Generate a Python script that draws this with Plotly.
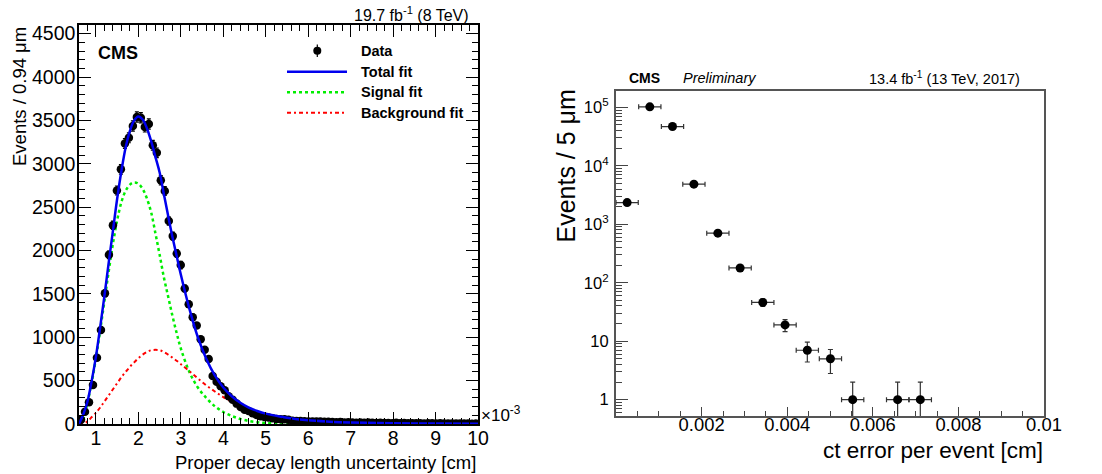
import numpy as np
import plotly.graph_objects as go

W, H = 1102, 474
FONT = "Liberation Sans, Arial, sans-serif"

# ---------------- Left panel data (x in units of 1e-3 cm) ----------------
bin_lo = 0.6
bin_width = 0.094  # 0.94 um bins
left_counts = [
    50, 142, 250, 449, 764, 1083, 1506, 1950, 2290, 2692,
    2936, 3234, 3300, 3435, 3540, 3530, 3425, 3458, 3214, 3126,
    2811, 2686, 2340, 2166, 1966, 1832, 1563, 1380, 1232, 1136,
    978, 857, 750, 553, 487, 434, 390, 320, 280, 235,
    195, 165, 150, 123, 105, 90, 80, 75, 65, 58,
    54, 55, 50, 38, 36, 34, 32, 30, 28, 30,
    28, 25, 27, 22, 20, 24, 18, 19, 17, 15,
    18, 14, 16, 13, 12, 15, 11, 12, 10, 13,
    9, 11, 10, 8, 10, 9, 7, 9, 8, 6,
    8, 7, 6, 7, 5, 6, 5, 6, 4, 5,
]
left_x = bin_lo + bin_width * (np.arange(len(left_counts)) + 0.5)
left_err = np.sqrt(np.array(left_counts, dtype=float))

fit_x = [0.6, 0.7, 0.8, 0.9, 1.0, 1.1, 1.2, 1.3, 1.4, 1.5, 1.6, 1.7, 1.8, 1.9,
         2.0, 2.1, 2.2, 2.3, 2.4, 2.5, 2.6, 2.7, 2.8, 2.9, 3.0, 3.2, 3.4, 3.6,
         3.8, 4.0, 4.2, 4.4, 4.6, 4.8, 5.0, 5.5, 6.0, 6.5, 7.0, 8.0, 9.0, 10.0]
total_fit = [0, 110, 260, 500, 780, 1120, 1480, 1860, 2230, 2600, 2920, 3190, 3380, 3500,
             3545, 3510, 3410, 3260, 3080, 2900, 2650, 2400, 2160, 1940, 1720, 1330, 1000, 750,
             560, 420, 320, 245, 190, 150, 120, 72, 42, 27, 18, 9, 5, 3]
signal_fit = [0, 60, 250, 480, 760, 1080, 1420, 1760, 2080, 2350, 2560, 2690, 2760, 2785,
              2770, 2710, 2600, 2440, 2200, 1950, 1690, 1470, 1250, 1050, 870, 600, 420, 300,
              205, 138, 92, 58, 35, 20, 11, 2, 0, 0, 0, 0, 0, 0]
background_fit = [0, 5, 30, 80, 130, 190, 260, 330, 400, 470, 540, 600, 660, 710,
                  760, 800, 830, 850, 855, 850, 830, 800, 765, 730, 690, 610, 525, 445,
                  375, 310, 255, 200, 155, 120, 92, 50, 27, 15, 8, 3, 1.5, 0.5]

# ---------------- Right panel data ----------------
right_x = [0.00026, 0.00079, 0.00132, 0.00182, 0.00238, 0.00290, 0.00343,
           0.00395, 0.00447, 0.00501, 0.00553, 0.00658, 0.00711]
right_xerr = [0.00026] * len(right_x)
right_counts = [2350, 102000, 47000, 4860, 705, 179, 46, 19, 7, 5, 1, 1, 1]
right_err = [48, 320, 217, 70, 27, 13.4, 6.8, 4.4, 2.6, 2.2, 1, 1, 1]

right_xticks = [0.002, 0.004, 0.006, 0.008, 0.01]
right_xticktext = ["0.002", "0.004", "0.006", "0.008", "0.01"]


def px(x):
    return x / W


def py(y):
    return 1 - y / H


fig = go.Figure()

# left panel
fig.add_trace(go.Scatter(x=fit_x, y=signal_fit, mode="lines", line=dict(color="#00ee00", width=2.5, dash="dot", shape="spline"),
                         xaxis="x", yaxis="y", showlegend=False))
fig.add_trace(go.Scatter(x=fit_x, y=background_fit, mode="lines",
                         line=dict(color="#ff0000", width=2, dash="4px,3px,2px,3px", shape="spline"),
                         xaxis="x", yaxis="y", showlegend=False))
fig.add_trace(go.Scatter(x=left_x, y=left_counts, mode="markers",
                         marker=dict(color="black", size=8.5),
                         error_y=dict(type="data", array=left_err, color="black", thickness=1.2, width=2),
                         xaxis="x", yaxis="y", showlegend=False))
fig.add_trace(go.Scatter(x=fit_x, y=total_fit, mode="lines", line=dict(color="#0000ee", width=2.5, shape="spline"),
                         xaxis="x", yaxis="y", showlegend=False))

# right panel
fig.add_trace(go.Scatter(x=right_x, y=right_counts, mode="markers",
                         marker=dict(color="black", size=9),
                         error_y=dict(type="data", array=right_err, color="#333", thickness=1.2, width=2.5),
                         error_x=dict(type="data", array=right_xerr, color="#333", thickness=1.2, width=2.5),
                         xaxis="x2", yaxis="y2", showlegend=False))

tick_font_l = dict(family=FONT, size=19.5, color="black")

fig.update_layout(
    width=W, height=H,
    margin=dict(l=0, r=0, t=0, b=0, autoexpand=False),
    paper_bgcolor="white", plot_bgcolor="white",
    font=dict(family=FONT, color="black"),
    xaxis=dict(domain=[px(79), px(478)], anchor="y", range=[0.6, 10],
               tickmode="linear", tick0=0, dtick=1, ticks="inside", ticklen=12, tickwidth=1.2,
               tickcolor="black", showline=True, linecolor="black", linewidth=1.5, mirror="ticks",
               showgrid=False, zeroline=False, tickfont=tick_font_l, ticklabelstandoff=-4,
               minor=dict(ticks="inside", ticklen=6, tickwidth=1, tickcolor="black", tick0=0, dtick=0.2, showgrid=False)),
    yaxis=dict(domain=[py(424), py(25)], anchor="x", range=[0, 4600],
               tickmode="linear", tick0=0, dtick=500, ticks="inside", ticklen=12, tickwidth=1.2,
               tickcolor="black", showline=True, linecolor="black", linewidth=1.5, mirror="ticks",
               showgrid=False, zeroline=False, tickfont=tick_font_l, ticklabelstandoff=-2,
               minor=dict(ticks="inside", ticklen=6, tickwidth=1, tickcolor="black", tick0=0, dtick=100, showgrid=False)),
    xaxis2=dict(domain=[px(616), px(1044)], anchor="y2", range=[0, 0.01],
                tickmode="array", tickvals=right_xticks, ticktext=right_xticktext,
                ticks="inside", ticklen=9, tickwidth=1, tickcolor="#444",
                showline=True, linecolor="#555", linewidth=1.5, mirror=True, ticklabelstandoff=-9,
                showgrid=False, zeroline=False, tickfont=dict(family=FONT, size=18.4, color="black"),
                minor=dict(tickmode="linear", tick0=0, dtick=0.0005, ticks="inside", ticklen=5,
                           tickwidth=1, tickcolor="#444", showgrid=False)),
    yaxis2=dict(domain=[py(416), py(91)], anchor="x2", type="log", range=[-0.28, 5.28],
                dtick=1, exponentformat="power", ticks="inside", ticklen=12, tickwidth=1, tickcolor="#444",
                showline=True, linecolor="#555", linewidth=1.5, mirror=True, ticklabelstandoff=3,
                showgrid=False, zeroline=False, tickfont=dict(family=FONT, size=13.2, color="black"),
                minor=dict(ticks="inside", ticklen=6, tickwidth=1, tickcolor="#444", showgrid=False)),
)

ann = []
# left panel texts
ann.append(dict(text="Proper decay length uncertainty [cm]", x=px(478), y=py(462), xanchor="right", yanchor="middle",
                font=dict(size=18.5)))
ann.append(dict(text="Events / 0.94 μm", x=px(19.5), y=py(25), xanchor="center", yanchor="top", textangle=-90,
                font=dict(size=18.5)))
ann.append(dict(text="×10<sup>-3</sup>", x=px(479), y=py(414), xanchor="left", yanchor="middle",
                font=dict(size=17)))
ann.append(dict(text="<b>CMS</b>", x=px(96), y=py(53), xanchor="left", yanchor="middle", font=dict(size=18)))
ann.append(dict(text="19.7 fb<sup>-1</sup> (8 TeV)", x=px(471), y=py(14), xanchor="right", yanchor="middle",
                font=dict(size=16)))
legend_items = [("Data", 50.7), ("Total fit", 71.7), ("Signal fit", 92.2), ("Background fit", 112.7)]
for label, yy in legend_items:
    ann.append(dict(text="<b>" + label + "</b>", x=px(359), y=py(yy), xanchor="left", yanchor="middle",
                    font=dict(size=14.5)))
# right panel texts
ann.append(dict(text="ct error per event [cm]", x=px(1045), y=py(450), xanchor="right", yanchor="middle",
                font=dict(size=22.5)))
ann.append(dict(text="Events / 5 μm", x=px(566), y=py(88), xanchor="center", yanchor="top", textangle=-90,
                font=dict(size=25)))
ann.append(dict(text="<b>CMS</b>", x=px(627), y=py(78), xanchor="left", yanchor="middle", font=dict(size=14)))
ann.append(dict(text="<i>Preliminary</i>", x=px(681), y=py(78), xanchor="left", yanchor="middle", font=dict(size=14.5)))
ann.append(dict(text="13.4 fb<sup>-1</sup> (13 TeV, 2017)", x=px(1022), y=py(78), xanchor="right", yanchor="middle",
                font=dict(size=14.5)))
for a in ann:
    a.update(xref="paper", yref="paper", showarrow=False)
    a["font"] = dict(family=FONT, color="black", **a["font"])
fig.update_layout(annotations=ann)

# manual legend symbols (decoration)
shapes = [
    dict(type="line", x0=px(287), x1=px(347), y0=py(71.7), y1=py(71.7), line=dict(color="#0000ee", width=2.5)),
    dict(type="line", x0=px(287), x1=px(347), y0=py(92.2), y1=py(92.2), line=dict(color="#00ee00", width=2.5, dash="dot")),
    dict(type="line", x0=px(287), x1=px(347), y0=py(112.7), y1=py(112.7),
         line=dict(color="#ff0000", width=2, dash="4px,3px,2px,3px")),
    dict(type="line", x0=px(317.3), x1=px(317.3), y0=py(44.5), y1=py(57), line=dict(color="black", width=1.2)),
    dict(type="circle", x0=px(313.3), x1=px(321.3), y0=py(46.7), y1=py(54.7), fillcolor="black",
         line=dict(color="black", width=0)),
]
for s in shapes:
    s.update(xref="paper", yref="paper")
fig.update_layout(shapes=shapes)

fig.write_html("out.html")
